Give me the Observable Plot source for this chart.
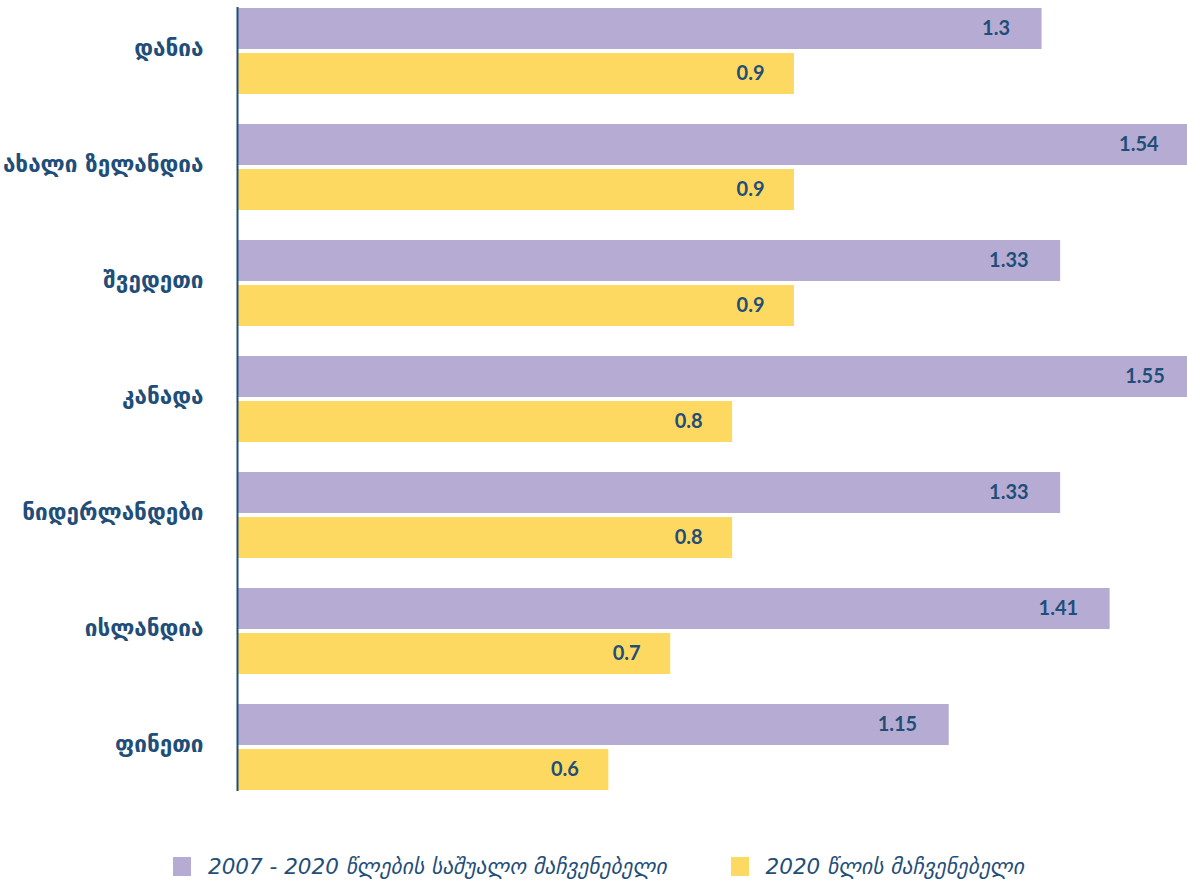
<!DOCTYPE html>
<html>
<head>
<meta charset="utf-8">
<script src="https://cdn.jsdelivr.net/npm/d3@7"></script>
<script src="https://cdn.jsdelivr.net/npm/@observablehq/plot@0.6"></script>
<style>
  html, body { margin: 0; padding: 0; background: #fff; }
  #wrap { position: relative; width: 1187px; height: 883px; }
  #legend { position: absolute; left: 173px; top: 852px; height: 28px;
    display: flex; justify-content: flex-start; align-items: center; gap: 64px;
    font-family: "DejaVu Sans", sans-serif; font-style: italic; font-size: 21.5px; color: #1f4e79; white-space: nowrap; }
  .item { display: flex; align-items: center; gap: 17px; }
  .sw { width: 18px; height: 19px; display: inline-block; }
</style>
</head>
<body>
<div id="wrap"><div id="chart"></div><div id="legend"></div></div>
<script>
const countries = ["დანია", "ახალი ზელანდია", "შვედეთი", "კანადა", "ნიდერლანდები", "ისლანდია", "ფინეთი"];
const avgValues = [1.3, 1.54, 1.33, 1.55, 1.33, 1.41, 1.15];
const values2020 = [0.9, 0.9, 0.9, 0.8, 0.8, 0.7, 0.6];
const seriesNames = ["2007 - 2020 წლების საშუალო მაჩვენებელი", "2020 წლის მაჩვენებელი"];
const seriesColors = ["#b6acd3", "#fed961"];
const navy = "#1f4e79";

const avgData = countries.map((c, i) => ({country: c, value: avgValues[i]}));
const data2020 = countries.map((c, i) => ({country: c, value: values2020[i]}));

const chart = Plot.plot({
  width: 1187,
  height: 830,
  marginLeft: 237,
  marginRight: 0,
  marginTop: 7,
  marginBottom: 39,
  x: {domain: [0, 1.535], axis: null},
  y: {domain: countries, paddingInner: 0.258, paddingOuter: 0, label: null},
  style: {background: "#fff"},
  marks: [
    Plot.barX(avgData, {x: "value", y: "country", fill: seriesColors[0], insetBottom: 45}),
    Plot.barX(data2020, {x: "value", y: "country", fill: seriesColors[1], insetTop: 45}),
    Plot.textX(avgData, {x: "value", y: "country", text: d => String(d.value), textAnchor: "end", dx: -32, dy: -22.5,
      fill: navy, fontWeight: "bold", fontSize: 20, fontFamily: "Lato"}),
    Plot.textX(data2020, {x: "value", y: "country", text: d => String(d.value), textAnchor: "end", dx: -30, dy: 22.5,
      fill: navy, fontWeight: "bold", fontSize: 20, fontFamily: "Lato"}),
    Plot.axisY({tickSize: 0, tickPadding: 34, fontSize: 22.5, fontWeight: "bold", fill: navy, dy: -3,
      fontFamily: "DejaVu Sans", label: null}),
    Plot.ruleX([0], {stroke: navy, strokeWidth: 2})
  ]
});
document.getElementById("chart").appendChild(chart);

const legend = document.getElementById("legend");
seriesNames.forEach((name, i) => {
  const item = document.createElement("div");
  item.className = "item";
  const sw = document.createElement("span");
  sw.className = "sw";
  sw.style.background = seriesColors[i];
  const t = document.createElement("span");
  t.textContent = name;
  item.appendChild(sw);
  item.appendChild(t);
  legend.appendChild(item);
});
</script>
</body>
</html>
